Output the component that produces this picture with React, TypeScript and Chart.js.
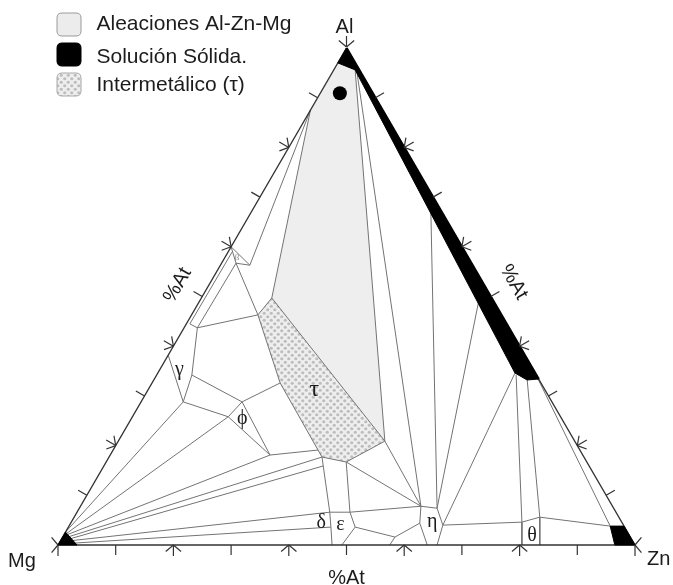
import React, { useEffect, useRef } from 'react';
import { Chart, registerables } from 'chart.js';

Chart.register(...registerables);

// A composition is [Al at.%, Zn at.%]; Mg makes up the remainder.
type Comp = [number, number];

const cornerLabels = ['Al', 'Mg', 'Zn'];
const axisCaption = '%At';
const tickSteps = [10, 20, 30, 40, 50, 60, 70, 80, 90];

const legendLabels = ['Aleaciones Al-Zn-Mg', 'Solución Sólida.', 'Intermetálico (τ)'];

// Phase labels and where they sit in the diagram
const phaseNames = ['τ', 'ϕ', 'γ', 'δ', 'ε', 'η', 'θ', 'β'];
const phaseAl = [31.1, 25.4, 34.7, 5.0, 4.0, 4.2, 2.4, 57.7];
const phaseZn = [28.9, 19.2, 3.6, 43.1, 46.9, 62.7, 80.9, 2.2];

// Marked alloy
const alloyPoint: Comp = [90.9, 3.4];

// Shaded fields
const alloyRegion: Comp[] = [[100, 0], [87.5, 0], [49.7, 12.2], [20.9, 46.2], [95.6, 3.7]];
const tauRegion: Comp[] = [[46.3, 11.5], [49.7, 12.2], [20.9, 46.2], [16.7, 41.6], [17.7, 36.9], [32.6, 22.2]];
const alSolidSolution: Comp[] = [[100, 0], [33.4, 66.6], [33.2, 64.7], [34.6, 61.9], [95.6, 3.7], [97, 0]];
const znSolidSolution: Comp[] = [[3.8, 93.8], [3.8, 96.2], [0, 100], [0, 96.5]];
const mgSolidSolution: Comp[] = [[0, 0], [2.6, 0], [0, 3.3]];

const triangle: Comp[] = [[100, 0], [0, 0], [0, 100], [100, 0]];
const alZnEdge: Comp[] = [[100, 0], [33.4, 66.6]];

// Phase boundaries (polylines)
const boundaries: Comp[][] = [
  [[87.5, 0], [49.7, 12.2]],
  [[87.5, 0], [56.3, 5.1]],
  [[95.6, 3.7], [20.9, 46.2]],
  [[95.2, 4.2], [7.8, 59.0]],
  [[60, 0], [56.7, 2.5], [56.3, 5.1], [60, 0]],
  [[56.7, 2.5], [46.3, 11.5]],
  [[59, 0.7], [44.5, 0.6], [43.7, 2.3]],
  [[56.7, 2.5], [43.7, 2.3]],
  [[43.7, 2.3], [46.3, 11.5]],
  [[43.7, 2.3], [34.2, 6.1], [28.8, 7.3], [38.2, 0]],
  [[34.2, 6.1], [28.8, 17.5]],
  [[28.8, 7.3], [25.8, 16.6]],
  [[28.8, 17.5], [25.8, 16.6], [18.1, 27.7], [28.8, 17.5]],
  [[28.8, 17.5], [32.6, 22.2]],
  [[18.1, 27.7], [19.1, 35.5]],
  [[46.3, 11.5], [49.7, 12.2], [20.9, 46.2], [16.7, 41.6], [17.7, 36.9], [32.6, 22.2], [46.3, 11.5]],
  [[28.8, 7.3], [2.6, 0]],
  [[25.8, 16.6], [2.3, 0.3]],
  [[18.1, 27.7], [2.1, 0.6]],
  [[17.7, 36.9], [1.7, 1.1]],
  [[15.9, 38.0], [1.3, 1.6]],
  [[6.6, 43.8], [0.9, 2.1]],
  [[3.6, 45.5], [0.4, 2.8]],
  [[17.7, 36.9], [6.6, 43.8], [3.6, 45.5], [0, 47.5]],
  [[16.7, 41.6], [6.6, 47.3], [3.6, 49.7], [0, 49.2]],
  [[6.6, 43.8], [6.6, 47.3], [7.8, 59.0]],
  [[16.7, 41.6], [7.8, 59.0]],
  [[20.9, 46.2], [7.8, 59.0]],
  [[3.6, 49.7], [1.6, 57.6], [4.4, 60.5]],
  [[1.6, 57.6], [0, 57.5]],
  [[0, 64.0], [4.4, 60.5], [7.8, 59.0], [7.4, 62.0], [4.0, 64.7], [0, 65.7]],
  [[68.2, 30.5], [7.4, 62.0]],
  [[48.7, 48.5], [7.4, 62.0]],
  [[34.6, 61.9], [4.0, 64.7]],
  [[34.2, 62.3], [4.6, 78.1], [0, 80.4]],
  [[33.4, 64.6], [5.6, 80.7], [0, 83.5]],
  [[4.0, 64.7], [4.6, 78.1], [5.6, 80.7], [3.8, 93.8]],
  [[33.4, 66.5], [3.8, 93.8]],
];

const SQ = Math.sqrt(3) / 2;
const toXY = ([al, zn]: Comp) => ({ x: zn + al / 2, y: al * SQ });

const SANS = '"Liberation Sans", Arial, Helvetica, sans-serif';
const SERIF = '"Liberation Serif", "Times New Roman", serif';
const INK = '#1c1c1c';

function makeDots(ctx: CanvasRenderingContext2D): CanvasPattern | string {
  const c = document.createElement('canvas');
  c.width = 7;
  c.height = 7;
  const g = c.getContext('2d');
  if (!g) return '#dddddd';
  g.fillStyle = '#eeeeee';
  g.fillRect(0, 0, 7, 7);
  g.fillStyle = '#bdbdbd';
  for (const [cx, cy] of [[1.75, 1.75], [5.25, 5.25]]) {
    g.beginPath();
    g.arc(cx, cy, 1.6, 0, Math.PI * 2);
    g.fill();
  }
  return ctx.createPattern(c, 'repeat') || '#dddddd';
}

function roundRect(ctx: CanvasRenderingContext2D, x: number, y: number, w: number, h: number, r: number) {
  ctx.beginPath();
  ctx.moveTo(x + r, y);
  ctx.lineTo(x + w - r, y);
  ctx.quadraticCurveTo(x + w, y, x + w, y + r);
  ctx.lineTo(x + w, y + h - r);
  ctx.quadraticCurveTo(x + w, y + h, x + w - r, y + h);
  ctx.lineTo(x + r, y + h);
  ctx.quadraticCurveTo(x, y + h, x, y + h - r);
  ctx.lineTo(x, y + r);
  ctx.quadraticCurveTo(x, y, x + r, y);
  ctx.closePath();
}

function centeredText(ctx: CanvasRenderingContext2D, s: string, cx: number, cy: number) {
  ctx.textAlign = 'left';
  ctx.textBaseline = 'alphabetic';
  const m = ctx.measureText(s);
  const x = cx - (m.actualBoundingBoxRight - m.actualBoundingBoxLeft) / 2;
  const y = cy + (m.actualBoundingBoxAscent - m.actualBoundingBoxDescent) / 2;
  ctx.fillText(s, x, y);
}

function seg(ctx: CanvasRenderingContext2D, x1: number, y1: number, x2: number, y2: number) {
  ctx.beginPath();
  ctx.moveTo(x1, y1);
  ctx.lineTo(x2, y2);
  ctx.stroke();
}

function chevron(ctx: CanvasRenderingContext2D, x: number, y: number, nx: number, ny: number, stem = true) {
  const a = (50 * Math.PI) / 180;
  const L = 10;
  if (stem) seg(ctx, x, y, x + nx * 11, y + ny * 11);
  for (const s of [a, -a]) {
    const rx = nx * Math.cos(s) - ny * Math.sin(s);
    const ry = nx * Math.sin(s) + ny * Math.cos(s);
    seg(ctx, x, y, x + rx * L, y + ry * L);
  }
}

const decor = {
  id: 'ternaryDecor',
  afterDatasetsDraw(chart: any) {
    const ctx: CanvasRenderingContext2D = chart.ctx;
    const sx = chart.scales.x;
    const sy = chart.scales.y;
    const px = (c: Comp) => {
      const p = toXY(c);
      return { x: sx.getPixelForValue(p.x), y: sy.getPixelForValue(p.y) };
    };
    ctx.save();

    // Edge ticks: plain ticks on odd tens, arrow marks on even tens
    ctx.strokeStyle = '#333';
    ctx.lineWidth = 1.2;
    const edges: { at: (p: number) => Comp; n: [number, number] }[] = [
      { at: (p) => [0, p], n: [0, 1] },
      { at: (p) => [p, 0], n: [-SQ, -0.5] },
      { at: (p) => [p, 100 - p], n: [SQ, -0.5] },
    ];
    for (const e of edges) {
      for (const p of tickSteps) {
        const q = px(e.at(p));
        if (p % 20 === 10) seg(ctx, q.x, q.y, q.x + e.n[0] * 10, q.y + e.n[1] * 10);
        else chevron(ctx, q.x, q.y, e.n[0], e.n[1]);
      }
    }
    const al = px([100, 0]);
    const mg = px([0, 0]);
    const zn = px([0, 100]);
    chevron(ctx, al.x, al.y - 1, 0, -1);
    chevron(ctx, mg.x, mg.y, -1, 0, false);
    seg(ctx, mg.x, mg.y, mg.x, mg.y + 11);
    chevron(ctx, zn.x, zn.y, 1, 0, false);
    seg(ctx, zn.x, zn.y, zn.x, zn.y + 11);

    // Corner and axis captions
    ctx.fillStyle = INK;
    ctx.font = `20px ${SANS}`;
    ctx.textBaseline = 'alphabetic';
    ctx.textAlign = 'center';
    ctx.fillText(cornerLabels[0], al.x - 2, al.y - 15);
    ctx.fillText(cornerLabels[1], mg.x - 36, mg.y + 22);
    ctx.textAlign = 'left';
    ctx.fillText(cornerLabels[2], zn.x + 12, zn.y + 20);
    ctx.textAlign = 'center';
    ctx.fillText(axisCaption, (mg.x + zn.x) / 2, mg.y + 39);

    const lm = px([52.5, 0]);
    ctx.save();
    ctx.translate(lm.x - 33, lm.y);
    ctx.rotate(-Math.PI / 3);
    centeredText(ctx, axisCaption, 0, 0);
    ctx.restore();

    const rm = px([53, 47]);
    ctx.save();
    ctx.translate(rm.x + 33, rm.y);
    ctx.rotate(Math.PI / 3);
    centeredText(ctx, axisCaption, 0, 0);
    ctx.restore();

    // Phase labels
    phaseNames.forEach((name, i) => {
      const q = px([phaseAl[i], phaseZn[i]]);
      if (name === 'β') {
        ctx.fillStyle = '#8a8a8a';
        ctx.font = `9px ${SERIF}`;
      } else {
        ctx.fillStyle = INK;
        ctx.font = `${name === 'τ' ? 24 : 20}px ${SERIF}`;
      }
      centeredText(ctx, name, q.x, q.y);
    });

    // Legend
    const boxes = [
      { y: 13, fill: '#ececec', stroke: '#9a9a9a' },
      { y: 43, fill: '#000000', stroke: '#000000' },
      { y: 73, fill: chart.$dots, stroke: '#a8a8a8' },
    ];
    const baselines = [29.5, 62.5, 91];
    boxes.forEach((b, i) => {
      roundRect(ctx, 57, b.y, 24, 23, 5);
      ctx.fillStyle = b.fill;
      ctx.fill();
      ctx.lineWidth = 1;
      ctx.strokeStyle = b.stroke;
      ctx.stroke();
      ctx.fillStyle = INK;
      ctx.font = `21px ${SANS}`;
      ctx.textAlign = 'left';
      ctx.textBaseline = 'alphabetic';
      ctx.fillText(legendLabels[i], 96.5, baselines[i]);
    });

    ctx.restore();
  },
};

export default function App() {
  const ref = useRef<HTMLCanvasElement>(null);

  useEffect(() => {
    const canvas = ref.current;
    if (!canvas) return;
    const ctx = canvas.getContext('2d');
    if (!ctx) return;
    const dots = makeDots(ctx);

    const poly = (pts: Comp[], color: any, edge: string, order: number) => ({
      data: [...pts, pts[0]].map(toXY),
      showLine: true,
      fill: 'shape',
      backgroundColor: color,
      borderColor: edge,
      borderWidth: 1,
      pointRadius: 0,
      order,
    });
    const line = (pts: Comp[], color: string, width: number, order: number) => ({
      data: pts.map(toXY),
      showLine: true,
      fill: false,
      borderColor: color,
      borderWidth: width,
      pointRadius: 0,
      order,
    });

    const datasets: any[] = [
      poly(alloyRegion, '#eeeeee', 'rgba(0,0,0,0)', 30),
      poly(tauRegion, dots, 'rgba(0,0,0,0)', 29),
      ...boundaries.map((b) => line(b, '#737373', 1, 20)),
      line(triangle, '#333333', 1.4, 10),
      line(alZnEdge, '#000000', 2.5, 6),
      poly(alSolidSolution, '#000000', '#000000', 5),
      poly(znSolidSolution, '#000000', '#000000', 5),
      poly(mgSolidSolution, '#000000', '#000000', 5),
      {
        data: [toXY(alloyPoint)],
        showLine: false,
        pointRadius: 7,
        pointBackgroundColor: '#000000',
        pointBorderWidth: 0,
        backgroundColor: '#000000',
        order: 0,
      },
    ];

    const chart: any = new Chart(canvas, {
      type: 'scatter',
      data: { datasets },
      options: {
        animation: false,
        responsive: false,
        devicePixelRatio: 1,
        events: [],
        layout: { padding: 0, autoPadding: false },
        plugins: { legend: { display: false }, tooltip: { enabled: false }, title: { display: false } },
        scales: {
          x: { type: 'linear', min: -10.052, max: 106.586, display: false },
          y: { type: 'linear', min: -6.97, max: 94.968, display: false },
        },
      },
      plugins: [decor],
    } as any);
    chart.$dots = dots;
    chart.draw();

    return () => chart.destroy();
  }, []);

  return (
    <div style={{ position: 'fixed', left: 0, top: 0, width: 673, height: 585, background: '#ffffff' }}>
      <canvas ref={ref} width={673} height={585} style={{ display: 'block', width: 673, height: 585 }} />
    </div>
  );
}
